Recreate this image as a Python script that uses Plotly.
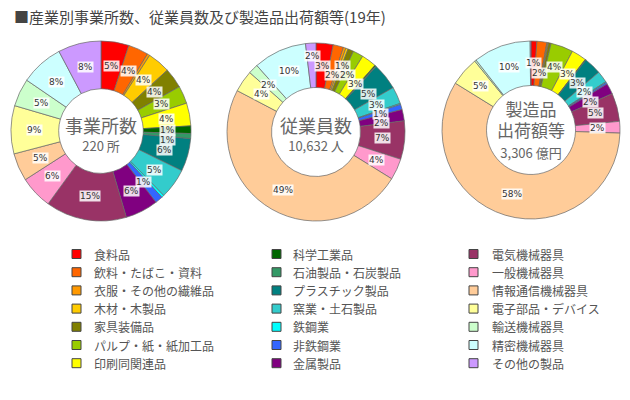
import plotly.graph_objects as go
import numpy as np

W, H = 630, 400

categories = ["食料品", "飲料・たばこ・資料", "衣服・その他の繊維品", "木材・木製品", "家具装備品",
              "パルプ・紙・紙加工品", "印刷同関連品", "科学工業品", "石油製品・石炭製品", "プラスチック製品",
              "窯業・土石製品", "鉄鋼業", "非鉄鋼業", "金属製品", "電気機械器具",
              "一般機械器具", "情報通信機械器具", "電子部品・デバイス", "輸送機械器具", "精密機械器具",
              "その他の製品"]
colors = ["#FF0000", "#FF6600", "#FF9900", "#FFCC00", "#808000",
          "#99CC00", "#FFFF00", "#006600", "#339966", "#008080",
          "#33CCCC", "#00FFFF", "#3366FF", "#800080", "#993366",
          "#FF99CC", "#FFCC99", "#FFFF99", "#CCFFCC", "#CCFFFF",
          "#CC99FF"]

# 事業所数 (所)
establishments = [11, 8, 1, 9, 8, 7, 9, 3, 2, 13, 12, 1, 3, 13, 32, 13, 11, 19, 11, 17, 17]
# 従業員数 (人)
employees = [330, 200, 50, 45, 110, 200, 290, 20, 10, 520, 330, 20, 100, 220, 740, 410, 5197, 420, 190, 1030, 200]
# 製造品出荷額等 (億円)
shipments = [35, 60, 5, 5, 15, 135, 90, 3, 2, 105, 70, 5, 10, 65, 170, 70, 1926, 175, 10, 345, 5]

title = "■産業別事業所数、従業員数及び製造品出荷額等(19年)"
center_titles = [["事業所数"], ["従業員数"], ["製造品", "出荷額等"]]
center_subs = ["220 所", "10,632 人", "3,306 億円"]

pies = [
    dict(values=establishments, cx=101, cy=131, r=90, hole=0.47, text_cy=133, base=14, big=18),
    dict(values=employees, cx=316, cy=132, r=89, hole=0.50, text_cy=133, base=14, big=18),
    dict(values=shipments, cx=531, cy=130, r=89, hole=0.50, text_cy=129, base=16, big=17),
]

label_font = dict(family="DejaVu Sans", size=9, color="#333333")
LBL_H = 9.0


def lbl_w(s):
    return 5.3 * len(s) + 2


def overlaps(a, b):
    return (abs(a[0] - b[0]) < (a[2] + b[2]) / 2) and (abs(a[1] - b[1]) < LBL_H)


fig = go.Figure()
for i, p in enumerate(pies):
    v = np.array(p["values"], dtype=float)
    total = v.sum()
    pct = v / total * 100
    fig.add_trace(go.Pie(
        labels=categories, values=p["values"], textinfo="none",
        sort=False, direction="clockwise", rotation=0, hole=p["hole"],
        marker=dict(colors=colors, line=dict(color="#666666", width=0.7)),
        domain=dict(x=[(p["cx"] - p["r"]) / W, (p["cx"] + p["r"]) / W],
                    y=[(H - p["cy"] - p["r"]) / H, (H - p["cy"] + p["r"]) / H]),
        showlegend=False, hoverinfo="label+value+percent",
    ))
    # percentage labels placed in the ring at each slice's mid angle,
    # nudged when they would collide with an already placed label
    mids = (np.cumsum(v) - v / 2) / total * 2 * np.pi
    rmid = p["r"] * (1 + p["hole"]) / 2
    rout = p["r"] * 0.88
    placed = []
    for ang, pc in zip(mids, pct):
        if round(pc) < 1:
            continue
        s = f"{int(round(pc))}%"
        w = lbl_w(s)
        cands = []
        for rr in (rmid, rout):
            bx = p["cx"] + rr * np.sin(ang)
            by = p["cy"] - rr * np.cos(ang)
            for sh in sorted(range(-12, 13), key=lambda t: (abs(t), -t)):
                cands.append((bx, by + sh, w))
        choice = cands[0]
        for c in cands:
            if not any(overlaps(c, q) for q in placed):
                choice = c
                break
        placed.append(choice)
        fig.add_annotation(x=choice[0] / W, y=1 - choice[1] / H, xref="paper", yref="paper",
                           text=s, showarrow=False,
                           xanchor="center", yanchor="middle",
                           bgcolor="rgba(255,255,255,0.85)", borderpad=0,
                           font=label_font)
    # centre caption: one multi-line text block
    lines = [f"<span style='font-size:{p['big']}px'>{t}</span>" for t in center_titles[i]]
    lines.append(f"<span style='font-size:13px'>{center_subs[i]}</span>")
    fig.add_annotation(x=p["cx"] / W, y=1 - p["text_cy"] / H, xref="paper", yref="paper",
                       text="<br>".join(lines), showarrow=False, align="center",
                       xanchor="center", yanchor="middle", borderpad=0,
                       font=dict(family="Noto Sans CJK JP", size=p["base"], color="#666666"))

# Legend drawn as shapes + text, three columns of seven, column-major order
col_sq_x = [72, 272, 469]
col_tx_x = [92, 291, 490]
row0, row_step, sq = 254, 18.2, 9
for k, (cat, col) in enumerate(zip(categories, colors)):
    c, r = divmod(k, 7)
    yc = row0 + r * row_step
    fig.add_shape(type="rect", xref="paper", yref="paper",
                  x0=col_sq_x[c] / W, x1=(col_sq_x[c] + sq) / W,
                  y0=1 - (yc + sq / 2) / H, y1=1 - (yc - sq / 2) / H,
                  fillcolor=col, line=dict(color="#444444", width=1))
    fig.add_annotation(x=col_tx_x[c] / W, y=1 - yc / H, xref="paper", yref="paper",
                       text=cat, showarrow=False, xanchor="left", yanchor="middle",
                       font=dict(family="Noto Sans CJK JP", size=12, color="#555555"))

fig.add_annotation(x=12 / W, y=1 - 17 / H, xref="paper", yref="paper", text=title,
                   showarrow=False, xanchor="left", yanchor="middle",
                   font=dict(family="Noto Sans CJK JP", size=15, color="#444444"))

fig.update_layout(width=W, height=H, margin=dict(l=0, r=0, t=0, b=0),
                  paper_bgcolor="white", plot_bgcolor="white")
fig.write_html("out.html")
